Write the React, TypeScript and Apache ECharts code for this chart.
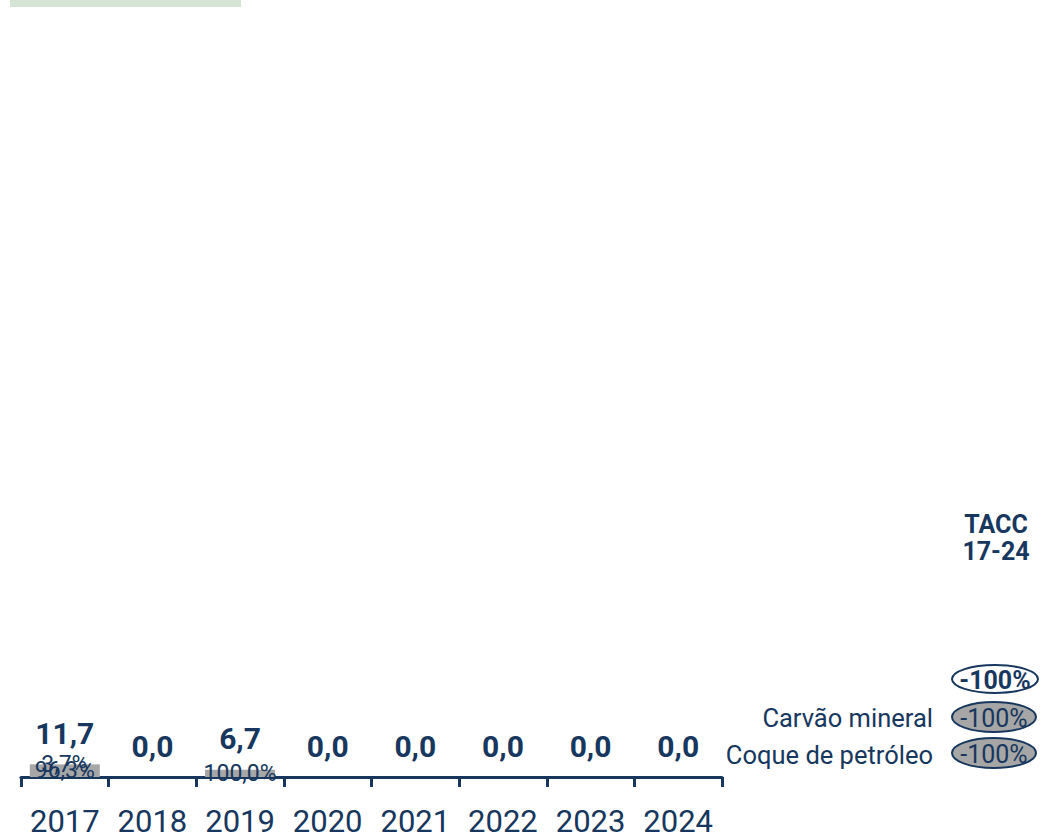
import React, { useEffect, useRef } from "react";
import * as echarts from "echarts";

const years = ["2017", "2018", "2019", "2020", "2021", "2022", "2023", "2024"];
const coqueDePetroleo = [11.27, 0, 6.7, 0, 0, 0, 0, 0];
const carvaoMineral = [0.43, 0, 0, 0, 0, 0, 0, 0];
const totals = [11.7, 0, 6.7, 0, 0, 0, 0, 0];
const seriesNames = ["Carvão mineral", "Coque de petróleo"];
const taccTotal = "-100%";
const taccSeries = ["-100%", "-100%"];

const NAVY = "#17375e";
const GRAY = "#a6a6a6";
const FONT = "Roboto, 'Noto Sans', sans-serif";

const fmt1 = (v: number) => v.toFixed(1).replace(".", ",");

export default function App() {
  const ref = useRef<HTMLDivElement>(null);
  useEffect(() => {
    document.body.style.margin = "0";
    const chart = echarts.init(ref.current!, null, { renderer: "svg" });
    const pctLabel = (p: any) => {
      const v = p.value as number;
      const t = totals[p.dataIndex];
      if (!v || !t) return "";
      return fmt1((v / t) * 100) + "%";
    };
    const pctLabelStyle = {
      show: true,
      position: "inside",
      color: NAVY,
      fontSize: 23,
      fontFamily: FONT,
      formatter: pctLabel,
    };
    chart.setOption({
      animation: false,
      grid: { left: 21, right: 319, top: 10, bottom: 62 },
      xAxis: {
        type: "category",
        data: years,
        axisLine: { show: true, lineStyle: { color: NAVY, width: 3 } },
        axisTick: { show: true, length: 10, lineStyle: { color: NAVY, width: 3 } },
        axisLabel: { color: NAVY, fontSize: 31, fontFamily: FONT, margin: 29, interval: 0 },
      },
      yAxis: { type: "value", min: 0, max: 700, show: false, splitLine: { show: false } },
      series: [
        {
          name: seriesNames[1],
          type: "bar",
          stack: "a",
          data: coqueDePetroleo,
          barWidth: 70,
          barGap: "-100%",
          itemStyle: { color: GRAY },
          label: pctLabelStyle,
        },
        {
          name: seriesNames[0],
          type: "bar",
          stack: "a",
          data: carvaoMineral,
          barWidth: 70,
          barGap: "-100%",
          itemStyle: { color: GRAY },
          label: pctLabelStyle,
        },
        {
          name: "Total",
          type: "bar",
          data: totals,
          barWidth: 70,
          barGap: "-100%",
          z: 1,
          itemStyle: { color: "rgba(0,0,0,0)" },
          label: {
            show: true,
            position: "top",
            distance: 16,
            color: NAVY,
            fontSize: 30,
            fontWeight: "bold",
            fontFamily: FONT,
            formatter: (p: any) => fmt1(p.value as number),
          },
        },
      ],
      graphic: [
        { type: "rect", shape: { x: 10, y: 0, width: 231, height: 7 }, style: { fill: "#d6e4d6" } },
        {
          type: "text",
          x: 996,
          y: 538,
          style: {
            text: "TACC\n17-24",
            fill: NAVY,
            fontSize: 25,
            fontWeight: "bold",
            fontFamily: FONT,
            align: "center",
            verticalAlign: "middle",
            lineHeight: 27,
          },
        },
        {
          type: "ellipse",
          shape: { cx: 995, cy: 679, rx: 43, ry: 14 },
          style: { fill: "#ffffff", stroke: NAVY, lineWidth: 2 },
        },
        {
          type: "text",
          x: 995,
          y: 680,
          style: { text: taccTotal, fill: NAVY, fontSize: 25, fontWeight: "bold", fontFamily: FONT, align: "center", verticalAlign: "middle" },
        },
        {
          type: "ellipse",
          shape: { cx: 994, cy: 717, rx: 42, ry: 15 },
          style: { fill: GRAY, stroke: NAVY, lineWidth: 2 },
        },
        {
          type: "text",
          x: 994,
          y: 718,
          style: { text: taccSeries[0], fill: NAVY, fontSize: 25, fontFamily: FONT, align: "center", verticalAlign: "middle" },
        },
        {
          type: "ellipse",
          shape: { cx: 994, cy: 753, rx: 42, ry: 15 },
          style: { fill: GRAY, stroke: NAVY, lineWidth: 2 },
        },
        {
          type: "text",
          x: 994,
          y: 754,
          style: { text: taccSeries[1], fill: NAVY, fontSize: 25, fontFamily: FONT, align: "center", verticalAlign: "middle" },
        },
        {
          type: "text",
          x: 933,
          y: 718,
          style: { text: seriesNames[0], fill: NAVY, fontSize: 25.5, fontFamily: FONT, align: "right", verticalAlign: "middle" },
        },
        {
          type: "text",
          x: 933,
          y: 755,
          style: { text: seriesNames[1], fill: NAVY, fontSize: 25.5, fontFamily: FONT, align: "right", verticalAlign: "middle" },
        },
      ],
    });
    return () => chart.dispose();
  }, []);
  return <div ref={ref} style={{ width: 1041, height: 839 }} />;
}
